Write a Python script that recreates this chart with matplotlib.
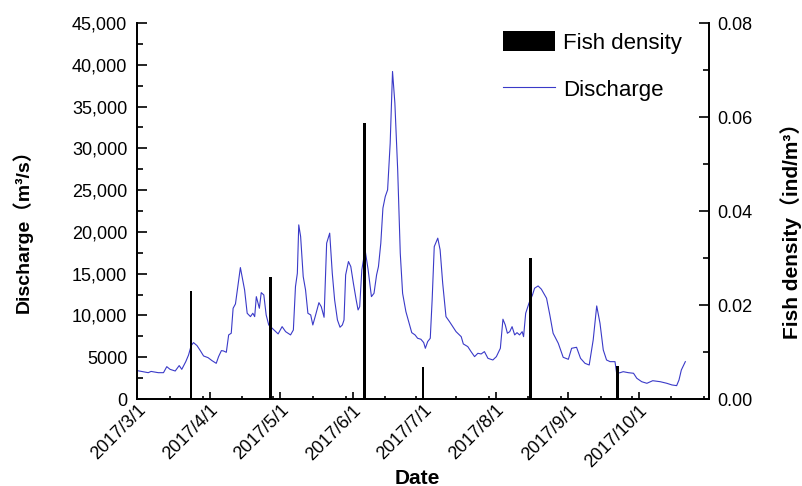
import numpy as np
import pandas as pd
import matplotlib
matplotlib.use('Agg')
import matplotlib.pyplot as plt
import matplotlib.dates as mdates
from matplotlib.ticker import FuncFormatter, MultipleLocator

plt.rcParams['font.family'] = ['Liberation Sans', 'Noto Sans CJK SC', 'DejaVu Sans']
plt.rcParams['font.size'] = 13

start = pd.Timestamp('2017-03-01')

# discharge (m3/s), days counted from 2017-03-01
q_day = [0, 4.8, 6, 9.1, 11.3, 12.7, 14.1, 16.3, 18, 19.1, 20.8, 22, 23.1, 24.1, 25.6,
         27, 28.4, 30.3, 32, 33.8, 34.8, 36, 36.9, 38.1, 39.1, 40.2, 41, 42, 44.1, 45.9,
         47, 48.4, 49.4, 50.2, 50.9, 52.2, 53, 54.1, 55.1, 56.2, 58.1, 60.2, 61.9, 63.4,
         65.5, 66.7, 67.6, 68.4, 69, 69.8, 70.9, 71.9, 72.9, 74.1, 75, 76.2, 77.6, 78.6,
         79.8, 80.9, 82.2, 83.3, 84.3, 85.5, 86.6, 87.6, 88.3, 89, 90.2, 91.2, 92.3, 93.5,
         94.3, 95, 95.9, 97.3, 98.6, 100, 101.1, 102.2, 103, 104, 104.9, 105.9, 106.9, 108,
         109, 110, 111.2, 112.3, 113.3, 114.7, 116.1, 117.2, 118.6, 119.7, 121.1, 122.3,
         123, 124, 125.1, 125.9, 126.8, 128.3, 129.3, 130.4, 131.8, 133.3, 134.7, 136.1,
         138.3, 139.2, 141.1, 142.5, 144, 145.4, 146.8, 148.2, 149.7, 151.8, 153.3, 155,
         156.1, 157.1, 158, 159, 160, 161.1, 162.1, 163.2, 164.3, 164.9, 165.8, 167.2,
         168.7, 169.6, 171.1, 172.5, 174.7, 176.1, 177.5, 179.7, 181.8, 184, 185.4, 187.5,
         189.2, 191.1, 192.9, 194.6, 196.1, 197.5, 198.9, 200.3, 201.8, 203.9, 204.6,
         206.1, 207.4, 209.6, 211.8, 213.2, 215.3, 217.5, 220, 223.2, 226, 228.2, 230.2,
         231.2, 232.2, 233.2, 233.9]
q_val = [3400, 3150, 3300, 3150, 3150, 3870, 3550, 3350, 4000, 3550, 4470, 5270, 6390, 6750, 6390,
         5790, 5150, 4950, 4590, 4270, 5070, 5790, 5750, 5590, 7670, 7870, 10860, 11380, 15730, 13050,
         10260, 9860, 10260, 9860, 12250, 10860, 12730, 12450, 10060, 8860, 8350, 7790, 8660, 8060,
         7670, 8260, 13450, 15050, 20840, 19440, 14650, 13050, 10260, 10060, 8860, 10060, 11530, 11050,
         9780, 18650, 19850, 15050, 11860, 9460, 8590, 8860, 9460, 14850, 16450, 15850, 13860, 11860,
         10660, 11050, 15450, 17850, 15450, 12250, 12650, 14850, 15850, 18650, 22840, 24230, 25030, 30620,
         39200, 35420, 27430, 17450, 12650, 10460, 9070, 7940, 7670, 7270, 7150, 6750,
         6070, 6870, 7270, 11860, 18240, 19250, 17850, 13860, 9860, 9260, 8660, 8060,
         7460, 6590, 6270, 5670, 5070, 5470, 5390, 5670, 4870, 4670, 5070, 6070,
         9550, 8860, 7870, 8060, 8660, 7670, 7940, 7670, 8060, 7460, 10260, 11460,
         12450, 13260, 13530, 13140, 12060, 10060, 7870, 6670, 4990, 4750, 6070, 6190,
         4870, 4270, 4070, 7070, 11140, 9070, 5870, 4670, 4470, 4470, 3080,
         3150, 3270, 3150, 3080, 2480, 2070, 1880, 2190, 2070, 1880, 1680, 1600,
         2280, 3470, 4070, 4470]

# fish density (ind/m3) on sampling days
fish_dates = ['2017-03-24', '2017-04-27', '2017-06-06', '2017-07-01', '2017-08-16', '2017-09-22']
fish_density = [0.023, 0.026, 0.0587, 0.0069, 0.030, 0.007]

q_time = start + pd.to_timedelta(q_day, unit='D')
f_time = pd.to_datetime(fish_dates)

fig = plt.figure(figsize=(8.03, 4.86), dpi=100)
ax = fig.add_axes([137 / 803, 87 / 486, (709 - 137) / 803, (399 - 23) / 486])
ax2 = ax.twinx()

ln, = ax.plot(q_time, q_val, color='#3a3ac8', lw=0.8, label='Discharge')
br = ax2.bar(f_time, fish_density, width=1.2, color='black', label='Fish density')

ax.set_xlim(pd.Timestamp('2017-03-01'), pd.Timestamp('2017-10-31'))
ax.set_ylim(0, 45000)
ax2.set_ylim(0, 0.08)

# month starts as major ticks, mid-month and end-of-month as minor ticks
months = pd.date_range('2017-03-01', '2017-10-01', freq='MS')
mids = months + pd.Timedelta(days=14)
ends = (months + pd.offsets.MonthBegin(1)) - pd.Timedelta(days=3)
ax.set_xticks(months)
ax.set_xticks(list(mids) + list(ends), minor=True)
ax.xaxis.set_major_formatter(FuncFormatter(
    lambda x, pos: '{d.year}/{d.month}/{d.day}'.format(d=mdates.num2date(x))))
for lbl in ax.get_xticklabels():
    lbl.set_rotation(45)
    lbl.set_ha('right')
    lbl.set_va('top')
    lbl.set_rotation_mode('anchor')

ax.yaxis.set_major_locator(MultipleLocator(5000))
ax.yaxis.set_minor_locator(MultipleLocator(2500))
ax.yaxis.set_major_formatter(FuncFormatter(
    lambda v, pos: f'{int(v):,}' if v >= 10000 else f'{int(v)}'))
ax2.yaxis.set_major_locator(MultipleLocator(0.02))
ax2.yaxis.set_minor_locator(MultipleLocator(0.01))
ax2.yaxis.set_major_formatter(FuncFormatter(lambda v, pos: f'{v:.2f}'))

ax.tick_params(axis='x', which='major', direction='in', length=5, width=1.2, pad=2)
ax.tick_params(axis='x', which='minor', direction='in', length=2.5, width=1.2)
ax.tick_params(axis='y', which='major', direction='in', length=7, width=1.2, pad=7)
ax.tick_params(axis='y', which='minor', direction='in', length=4.5, width=1.2)
ax2.tick_params(axis='y', which='major', direction='in', length=7, width=1.2, pad=6)
ax2.tick_params(axis='y', which='minor', direction='in', length=4.5, width=1.2)

for a in (ax, ax2):
    a.spines['top'].set_visible(False)
    for s in ('left', 'right', 'bottom'):
        a.spines[s].set_linewidth(1.3)

ax.set_xlabel('Date', fontsize=15, fontweight='bold')
ax.set_ylabel('Discharge（m³/s）', fontsize=14, fontweight='bold')
ax2.set_ylabel('Fish density（ind/m³）', fontsize=15, fontweight='bold')
ax.xaxis.set_label_coords(0.49, -0.185)
ax.yaxis.set_label_coords(-0.182, 0.46)
ax2.yaxis.set_label_coords(1.124, 0.46)

fig.legend([br, ln], ['Fish density', 'Discharge'], loc='upper left',
           bbox_to_anchor=(503 / 803, 1 - 31 / 486), frameon=False, fontsize=16,
           handlelength=2.35, handleheight=1.0, handletextpad=0.35, labelspacing=1.1,
           borderpad=0, borderaxespad=0)

fig.savefig('out.png', dpi=100)
